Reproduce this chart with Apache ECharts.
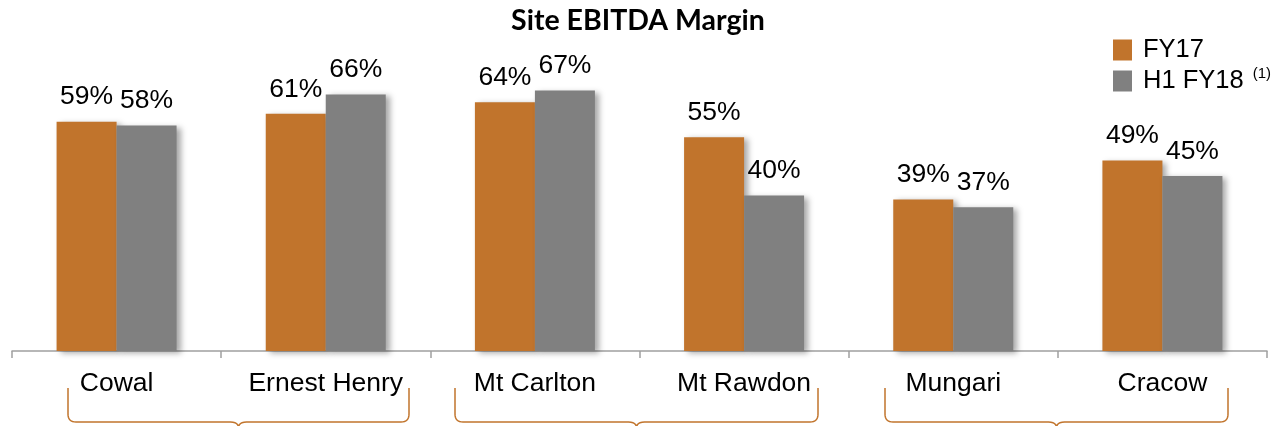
<!DOCTYPE html>
<html>
<head>
<meta charset="utf-8">
<script src="https://cdn.jsdelivr.net/npm/echarts@6/dist/echarts.min.js"></script>
<style>
html,body{margin:0;padding:0;background:#fff;}
#c{width:1276px;height:426px;}
</style>
</head>
<body>
<div id="c"></div>
<script>
const categories = ['Cowal', 'Ernest Henry', 'Mt Carlton', 'Mt Rawdon', 'Mungari', 'Cracow'];
const fy17 = [59, 61, 64, 55, 39, 49];
const h1fy18 = [58, 66, 67, 40, 37, 45];
const seriesNames = ['FY17', 'H1 FY18'];

const ORANGE = '#C1742C';
const GRAY = '#808080';
const FONT = '"Liberation Sans", Arial, sans-serif';

function quad(p0, p1, p2, n) {
  const pts = [];
  for (let i = 1; i <= n; i++) {
    const t = i / n, u = 1 - t;
    pts.push([u * u * p0[0] + 2 * u * t * p1[0] + t * t * p2[0], u * u * p0[1] + 2 * u * t * p1[1] + t * t * p2[1]]);
  }
  return pts;
}
function brace(x1, x2, yt, yb) {
  const xc = (x1 + x2) / 2;
  let pts = [[x1, yt], [x1, yb - 8]];
  pts = pts.concat(quad([x1, yb - 8], [x1, yb], [x1 + 8, yb], 8));
  pts.push([xc - 8, yb]);
  pts = pts.concat(quad([xc - 8, yb], [xc, yb], [xc, yb + 6], 6));
  pts = pts.concat(quad([xc, yb + 6], [xc, yb], [xc + 8, yb], 6));
  pts.push([x2 - 8, yb]);
  pts = pts.concat(quad([x2 - 8, yb], [x2, yb], [x2, yb - 8], 8));
  pts.push([x2, yt]);
  return {
    type: 'polyline',
    shape: { points: pts },
    style: { fill: null, stroke: ORANGE, lineWidth: 1.5 },
    silent: true
  };
}

const chart = echarts.init(document.getElementById('c'));
const barStyle = (color) => ({
  color: color,
  shadowColor: 'rgba(0,0,0,0.35)',
  shadowBlur: 6,
  shadowOffsetX: 4,
  shadowOffsetY: 2
});
const labelStyle = {
  show: true,
  position: 'top',
  distance: 11,
  formatter: '{c}%',
  fontFamily: FONT,
  fontSize: 26.5,
  color: '#000'
};

chart.setOption({
  animation: false,
  backgroundColor: '#fff',
  title: {
    text: 'Site EBITDA Margin',
    left: 'center',
    top: 6,
    padding: 0,
    textStyle: { fontFamily: 'Lato, "Open Sans", sans-serif', fontWeight: 'bold', fontSize: 28.5, color: '#000' }
  },
  legend: {
    orient: 'vertical',
    left: 1113,
    top: 37,
    padding: 0,
    itemWidth: 19,
    itemHeight: 21,
    itemGap: 3,
    icon: 'rect',
    data: seriesNames,
    formatter: function (name) {
      return name === 'H1 FY18' ? '{t|' + name + '}{s|(1)}' : '{t|' + name + '}';
    },
    textStyle: {
      rich: {
        t: { fontFamily: FONT, fontSize: 25.5, color: '#000', padding: [0, 0, 0, 6] },
        s: { fontFamily: FONT, fontSize: 15, color: '#000', padding: [0, 0, 15, 9] }
      }
    }
  },
  grid: { left: 12, right: 9, top: 40, bottom: 75 },
  xAxis: {
    type: 'category',
    data: categories,
    axisLine: { lineStyle: { color: '#A0A0A0', width: 1.5 } },
    axisTick: { show: true, length: 7, lineStyle: { color: '#A0A0A0', width: 1.5 } },
    axisLabel: { fontFamily: FONT, fontSize: 26.5, color: '#000', margin: 19 }
  },
  yAxis: {
    type: 'value',
    min: 0,
    max: 80,
    show: false,
    splitLine: { show: false }
  },
  series: [
    { name: seriesNames[0], type: 'bar', data: fy17, barWidth: 60, barGap: '0%', itemStyle: barStyle(ORANGE), label: labelStyle },
    { name: seriesNames[1], type: 'bar', data: h1fy18, barWidth: 60, barGap: '0%', itemStyle: barStyle(GRAY), label: labelStyle }
  ],
  graphic: [
    brace(68, 409, 388, 422),
    brace(455, 818, 388, 422),
    brace(885, 1228, 388, 422)
  ]
});
</script>
</body>
</html>
